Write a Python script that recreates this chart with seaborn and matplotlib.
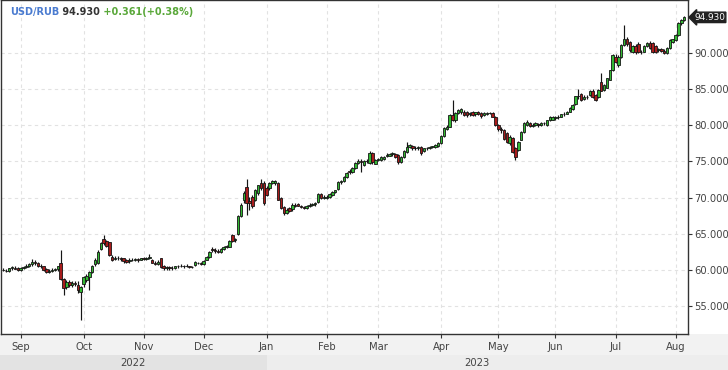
import numpy as np
import pandas as pd
import matplotlib
matplotlib.use("Agg")
import matplotlib.pyplot as plt
from matplotlib.patches import Rectangle
import seaborn as sns

# ---------------- data ----------------
symbol = "USD/RUB"
last_label = "94.930"
change_label = "+0.361(+0.38%)"
month_labels = ["Sep", "Oct", "Nov", "Dec", "Jan", "Feb", "Mar", "Apr", "May", "Jun", "Jul", "Aug"]
year_labels = ["2022", "2023"]
y_ticks = [55, 60, 65, 70, 75, 80, 85, 90]
start_date = "2022-08-24"
end_date = "2023-08-04"
holidays = ["2022-11-04", "2023-01-02", "2023-02-23", "2023-02-24", "2023-03-08",
            "2023-05-01", "2023-05-08", "2023-05-09", "2023-06-12"]

opens = [
    60.0, 59.9, 59.8, 60.2, 60.3, 60.2,  # Aug
    60.0, 60.3, 60.4, 60.6, 60.8, 61.1, 60.9, 60.6, 60.5, 60.1, 59.7, 59.9, 60.0, 60.1, 61.0, 58.7,
    57.6, 58.3, 57.9, 58.2, 57.9, 56.9,  # Sep
    58.0, 58.6, 59.0, 59.7, 60.8, 61.0, 62.9, 64.3, 64.0, 63.85, 61.8, 61.5, 61.7, 61.6, 61.6, 61.3,
    61.2, 61.4, 61.3, 61.5, 61.4,  # Oct
    61.6, 61.5, 61.6, 61.4, 61.0, 60.8, 61.6, 60.5, 60.2, 60.4, 60.2, 60.3, 60.5, 60.6, 60.5, 60.6,
    60.5, 60.4, 60.7, 61.0, 60.9,  # Nov
    60.8, 61.4, 61.8, 62.9, 62.8, 62.6, 62.5, 62.9, 63.2, 63.2, 64.8, 64.1, 64.95, 67.5, 69.6, 71.5,
    69.5, 70.1, 69.7, 70.6, 72.0, 72.0,  # Dec
    71.3, 71.3, 72.0, 72.0, 72.0, 69.9, 68.7, 67.9, 68.5, 68.4, 69.0, 69.1, 68.8, 68.7, 68.6, 68.9,
    69.0, 69.1, 69.4, 70.5, 69.9,  # Jan
    69.9, 70.1, 70.35, 70.8, 71.2, 72.2, 72.3, 72.85, 73.7, 73.5, 74.1, 74.8, 75.0, 74.5, 75.1, 74.8,
    76.1, 74.7,  # Feb
    75.2, 75.2, 75.3, 75.75, 75.8, 76.0, 76.0, 75.9, 74.9, 75.65, 76.35, 77.0, 77.2, 76.8, 76.9, 77.04,
    76.5, 76.8, 76.8, 77.0, 77.0, 77.1,  # Mar
    77.5, 78.5, 79.45, 79.8, 81.4, 80.7, 81.7, 81.8, 81.9, 81.8, 81.5, 81.8, 81.5, 81.8, 81.65, 81.4,
    81.6, 81.7, 81.75, 81.2,  # Apr
    80.0, 79.5, 79.3, 78.9, 77.5, 78.2, 76.9, 76.6, 78.0, 79.1, 80.0, 80.35, 79.9, 80.0, 80.2, 80.0,
    80.3, 80.0, 80.7, 80.8,  # May
    81.0, 81.1, 81.2, 81.5, 81.6, 81.9, 82.3, 82.9, 84.0, 84.3, 83.6, 83.95, 84.2, 84.8, 84.2, 83.95,
    86.0, 84.9, 85.2, 86.3, 87.65,  # Jun
    89.5, 88.3, 89.5, 91.1, 92.0, 91.56, 90.2, 90.9, 91.3, 90.2, 90.2, 90.9, 91.4, 91.35, 90.9, 90.4,
    90.5, 90.3, 89.95, 90.65, 91.55,  # Jul
    91.8, 92.5, 94.1, 94.5,  # Aug
]
highs = [
    60.2, 60.1, 60.3, 60.5, 60.5, 60.4,
    60.4, 60.6, 60.8, 61.0, 61.5, 61.3, 61.1, 60.8, 60.6, 60.3, 60.1, 60.2, 60.3, 60.6, 62.75, 58.9,
    58.6, 58.6, 58.4, 58.4, 58.4, 57.8,
    59.2, 59.4, 59.9, 60.7, 61.6, 62.7, 63.9, 64.8, 64.2, 63.9, 62.0, 61.9, 61.9, 61.8, 61.7, 61.5,
    61.6, 61.6, 61.7, 61.6, 61.7,
    61.8, 61.8, 62.2, 61.5, 61.2, 61.3, 61.7, 60.7, 60.5, 60.6, 60.5, 60.6, 60.7, 60.8, 60.7, 60.8,
    60.6, 60.6, 61.2, 61.1, 61.1,
    61.3, 61.9, 62.6, 63.1, 63.0, 62.9, 63.0, 63.3, 63.5, 64.1, 65.0, 64.4, 67.6, 69.2, 70.9, 72.6,
    70.1, 70.4, 71.2, 71.8, 72.6, 72.3,
    71.6, 72.2, 72.5, 72.5, 72.2, 70.1, 68.9, 68.5, 68.7, 69.2, 69.3, 69.3, 69.0, 68.9, 69.0, 69.2,
    69.3, 69.4, 70.6, 70.7, 70.3,
    70.3, 70.6, 70.9, 71.1, 72.3, 72.5, 73.0, 73.5, 73.9, 74.2, 74.9, 75.3, 75.3, 75.2, 75.4, 76.4,
    76.3, 75.4,
    75.5, 75.7, 75.8, 76.1, 76.2, 76.3, 76.2, 76.0, 75.8, 76.6, 77.7, 77.4, 77.3, 77.1, 77.2, 77.2,
    76.9, 77.0, 77.1, 77.2, 77.4, 77.7,
    78.6, 79.7, 80.0, 81.5, 83.5, 81.9, 82.3, 82.4, 82.1, 82.0, 81.9, 82.0, 81.9, 82.0, 81.8, 81.8,
    81.9, 81.9, 81.9, 81.3,
    80.2, 79.8, 79.5, 79.1, 78.6, 78.4, 77.0, 77.8, 79.2, 80.4, 80.8, 80.5, 80.3, 80.4, 80.3, 80.4,
    80.5, 80.8, 81.3, 81.3,
    81.3, 81.4, 81.6, 81.8, 82.0, 82.5, 82.9, 84.1, 85.0, 84.5, 84.2, 84.2, 84.9, 85.0, 84.3, 85.0,
    87.3, 85.7, 86.6, 87.7, 89.8,
    89.9, 89.7, 91.3, 93.9, 92.2, 91.7, 91.1, 91.2, 91.5, 90.4, 91.1, 91.5, 91.6, 91.5, 91.1, 90.7,
    90.7, 90.5, 90.8, 91.9, 92.0,
    92.6, 94.3, 94.7, 95.1,
]
lows = [
    59.8, 59.7, 59.7, 60.0, 60.1, 59.9,
    59.8, 60.1, 60.2, 60.4, 60.6, 60.7, 60.4, 60.3, 59.9, 59.5, 59.5, 59.7, 59.8, 59.9, 58.6, 56.5,
    57.3, 57.7, 57.6, 57.8, 56.8, 53.06,
    57.7, 58.3, 57.2, 59.5, 60.6, 60.8, 62.7, 63.5, 63.1, 61.9, 61.2, 61.3, 61.4, 61.2, 61.0, 60.9,
    61.0, 61.2, 61.2, 61.1, 61.3,
    61.4, 61.3, 61.5, 60.9, 60.7, 60.7, 60.3, 60.0, 60.0, 60.0, 60.0, 60.1, 60.3, 60.4, 60.3, 60.4,
    60.2, 60.2, 60.6, 60.8, 60.7,
    60.7, 61.3, 61.7, 62.5, 62.4, 62.3, 62.4, 62.7, 63.0, 63.1, 63.9, 63.9, 64.8, 67.3, 69.3, 67.6,
    68.3, 68.6, 69.5, 70.4, 71.1, 69.0,
    70.2, 71.1, 71.9, 71.8, 69.6, 68.4, 67.6, 67.7, 68.0, 68.2, 68.7, 68.8, 68.5, 68.4, 68.4, 68.7,
    68.8, 68.9, 69.3, 69.8, 69.8,
    69.8, 70.0, 70.2, 70.6, 71.0, 71.9, 72.1, 72.7, 73.3, 73.4, 74.0, 74.6, 73.6, 74.3, 74.8, 74.7,
    74.7, 74.6,
    75.0, 75.1, 75.2, 75.6, 75.7, 75.8, 75.5, 74.7, 74.8, 75.5, 76.2, 76.9, 76.6, 76.6, 76.6, 75.9,
    76.3, 76.6, 76.7, 76.9, 76.9, 77.0,
    77.4, 78.4, 79.3, 79.7, 80.6, 80.5, 81.5, 81.6, 81.3, 81.2, 81.3, 81.3, 81.3, 81.4, 81.0, 81.3,
    81.4, 81.5, 81.1, 79.9,
    79.2, 79.0, 77.9, 77.5, 77.3, 76.2, 75.2, 76.4, 77.9, 79.0, 79.9, 79.8, 79.8, 79.9, 79.8, 79.9,
    80.1, 79.9, 80.6, 80.7,
    80.8, 80.9, 81.1, 81.3, 81.5, 81.8, 82.1, 82.8, 83.6, 83.3, 83.5, 83.6, 84.1, 83.8, 83.3, 83.8,
    84.7, 84.8, 85.1, 86.2, 87.5,
    88.6, 88.1, 89.3, 90.9, 91.0, 90.2, 90.0, 89.9, 90.0, 89.9, 90.1, 90.8, 90.5, 90.0, 90.0, 90.2,
    90.1, 89.8, 89.8, 90.5, 91.4,
    91.6, 92.4, 93.9, 94.4,
]
closes = [
    60.05, 59.85, 60.25, 60.35, 60.15, 60.0,
    60.3, 60.4, 60.6, 60.8, 61.1, 60.9, 60.6, 60.5, 60.0, 59.7, 59.9, 60.0, 60.1, 60.5, 58.7, 57.5,
    58.3, 57.9, 58.2, 58.0, 57.2, 57.6,
    59.0, 59.2, 59.7, 60.5, 61.4, 62.5, 63.7, 63.7, 63.3, 62.05, 61.4, 61.7, 61.6, 61.5, 61.2, 61.1,
    61.4, 61.3, 61.5, 61.4, 61.6,
    61.5, 61.6, 61.8, 61.0, 60.8, 61.1, 60.4, 60.2, 60.4, 60.2, 60.3, 60.5, 60.6, 60.5, 60.6, 60.5,
    60.4, 60.4, 61.1, 60.9, 60.8,
    61.2, 61.8, 62.5, 62.7, 62.6, 62.5, 62.9, 63.2, 63.3, 64.0, 64.0, 64.3, 67.45, 69.0, 70.7, 69.3,
    69.2, 68.8, 71.05, 71.7, 71.3, 69.25,
    70.4, 72.0, 72.3, 72.3, 69.7, 68.6, 67.9, 68.3, 68.2, 69.0, 68.9, 68.9, 68.7, 68.6, 68.9, 69.0,
    69.1, 69.3, 70.5, 69.9, 70.1,
    70.1, 70.5, 70.8, 71.0, 72.2, 72.3, 72.9, 73.4, 73.5, 74.1, 74.8, 75.0, 74.9, 75.1, 75.0, 76.2,
    74.9, 75.2,
    75.3, 75.6, 75.65, 75.9, 76.0, 76.1, 75.65, 74.9, 75.6, 76.5, 77.0, 77.3, 76.8, 76.9, 76.9, 76.1,
    76.8, 76.8, 77.0, 77.1, 77.3, 77.6,
    78.5, 79.6, 79.8, 81.4, 80.8, 81.75, 82.1, 82.2, 81.4, 81.4, 81.65, 81.4, 81.8, 81.6, 81.3, 81.65,
    81.7, 81.75, 81.2, 80.0,
    79.5, 79.3, 78.05, 77.7, 78.4, 76.35, 75.6, 77.7, 79.1, 80.3, 80.5, 79.9, 80.1, 80.3, 80.0, 80.3,
    80.3, 80.7, 81.2, 81.2,
    81.1, 81.2, 81.5, 81.6, 81.9, 82.4, 82.8, 84.0, 84.1, 83.5, 83.95, 83.9, 84.8, 83.9, 83.5, 84.9,
    84.8, 85.6, 86.5, 87.6, 89.7,
    88.8, 89.5, 91.1, 92.0, 91.3, 90.4, 90.9, 90.1, 90.2, 90.1, 90.95, 91.35, 90.65, 90.2, 90.15, 90.5,
    90.3, 90.0, 90.7, 91.8, 91.9,
    92.5, 94.2, 94.57, 94.93,
]

# ---------------- frame ----------------
dates = pd.bdate_range(start_date, end_date)
dates = dates[~dates.isin(pd.to_datetime(holidays))]
df = pd.DataFrame({"date": dates, "open": opens, "high": highs, "low": lows, "close": closes})
df["pos"] = np.arange(len(df))
df["up"] = df["close"] >= df["open"]

first_pos = df.groupby(df["date"].dt.to_period("M"))["pos"].first()
month_pos = list(first_pos.values[1:])  # skip partial August 2022
year_start_pos = int(first_pos.values[5])  # January 2023

# ---------------- style ----------------
sns.set_theme(style="white")
plt.rcParams["font.family"] = ["DejaVu Sans"]

W, H = 728, 370
fig = plt.figure(figsize=(W / 100, H / 100), dpi=100)
fig.patch.set_facecolor("white")
ax = fig.add_axes([1 / W, 36 / H, 687 / W, 334 / H])
ax.set_facecolor("white")

green = "#33b833"
red = "#a81c1c"
edge = "#151515"

ax.vlines(df["pos"], df["low"], df["high"], color=edge, linewidth=0.85, zorder=2)
body = (df["close"] - df["open"]).abs().clip(lower=0.03)
ax.bar(df["pos"], body, bottom=np.minimum(df["open"], df["close"]), width=0.86,
       color=np.where(df["up"], green, red), edgecolor=edge, linewidth=0.6, zorder=3)

ax.set_xlim(-0.874, 239.34)
ax.set_ylim(51.13, 97.33)

ax.set_xticks(month_pos)
ax.set_xticklabels(month_labels)
ax.set_yticks(y_ticks)
ax.set_yticklabels([f"{v:.3f}" for v in y_ticks])
ax.yaxis.tick_right()
ax.tick_params(axis="y", right=True, left=False, direction="out", length=3, width=0.8,
               color="#333333", labelsize=7.2, labelcolor="#444444", pad=1.5)
ax.tick_params(axis="x", bottom=True, direction="out", length=3, width=0.8,
               color="#333333", labelsize=7.2, labelcolor="#444444", pad=3)

ax.grid(True, color="#e2e2e2", linestyle=(0, (3, 3)), linewidth=0.8)
ax.set_axisbelow(True)
for s in ax.spines.values():
    s.set_color("#333333")
    s.set_linewidth(1.0)

# bottom bands
fig.patches.append(Rectangle((0, 0), 1, 36 / H, transform=fig.transFigure,
                             facecolor="#f2f2f2", edgecolor="none", zorder=-5))
jan_px = ax.transData.transform((year_start_pos, 60))[0]
fig.patches.append(Rectangle((0, 0), jan_px / W, 15 / H, transform=fig.transFigure,
                             facecolor="#e3e3e3", edgecolor="none", zorder=-4))
fig.patches.append(Rectangle((jan_px / W, 0), 1 - jan_px / W, 15 / H, transform=fig.transFigure,
                             facecolor="#ededed", edgecolor="none", zorder=-4))
fig.text(jan_px / 2 / W, 7.5 / H, year_labels[0], ha="center", va="center",
         fontsize=7.2, color="#444444")
fig.text((jan_px + 688) / 2 / W, 7.5 / H, year_labels[1], ha="center", va="center",
         fontsize=7.2, color="#444444")

# title
t1 = fig.text(10 / W, 1 - 12 / H, symbol, ha="left", va="center", fontsize=7.0,
              fontweight="bold", color="#4a7bd0")
t2 = ax.annotate(" " + f"{closes[-1]:.3f}", xy=(1, 0), xycoords=t1, ha="left", va="bottom",
                 fontsize=7.0, fontweight="bold", color="#333333", annotation_clip=False)
t3 = ax.annotate(" " + change_label, xy=(1, 0), xycoords=t2, ha="left", va="bottom",
                 fontsize=7.0, fontweight="bold", color="#5aa83a", annotation_clip=False)

# last price tag
ax.annotate(last_label, xy=(1, closes[-1]), xycoords=("axes fraction", "data"),
            xytext=(4.5, 0), textcoords="offset points", ha="left", va="center",
            fontsize=6.4, color="white", annotation_clip=False,
            bbox=dict(boxstyle="larrow,pad=0.08", fc="#222222", ec="#222222"))

fig.savefig("out.png", dpi=100)
